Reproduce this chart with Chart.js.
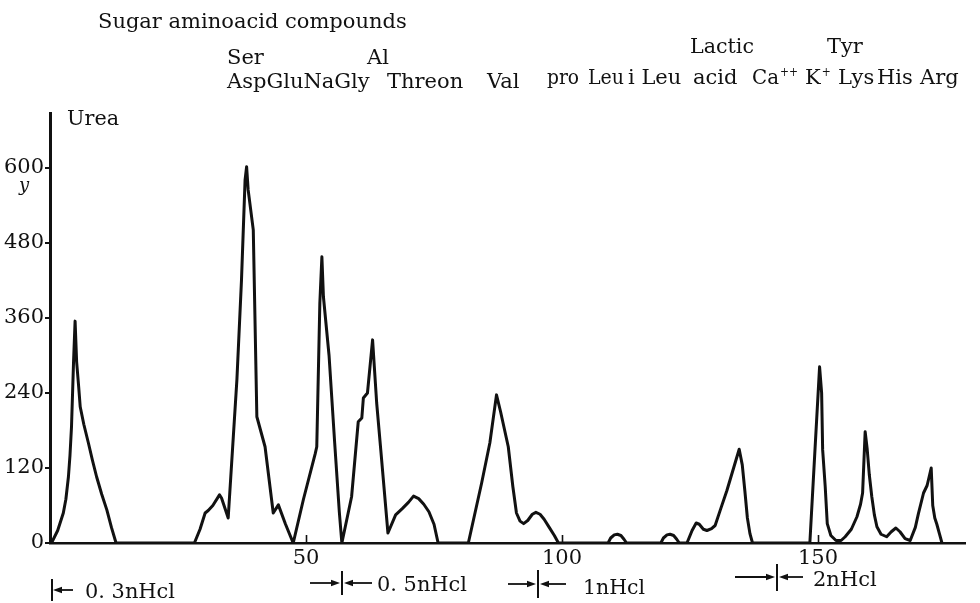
<!DOCTYPE html>
<html>
<head>
<meta charset="utf-8">
<script src="https://cdn.jsdelivr.net/npm/chart.js@4.4.1/dist/chart.umd.min.js"></script>
<style>
  html, body { margin: 0; padding: 0; background: #fff; overflow: hidden; }
  #wrap { width: 980px; height: 603px; position: relative; }
</style>
</head>
<body>
<div id="wrap"><canvas id="c"></canvas></div>
<script>
// ---------- data ----------
const chartTitle = "Sugar aminoacid compounds";
const upperLabels = ["Ser", "Al", "Lactic", "Tyr"];
const lowerLabels = ["AspGluNaGly", "Threon", "Val", "pro", "Leu", "i Leu", "acid", "Ca++", "K+", "Lys", "His", "Arg"];
const ureaLabel = "Urea";
const unitLabel = "y";
const eluents = ["0. 3nHcl", "0. 5nHcl", "1nHcl", "2nHcl"];
const xTickValues = [50, 100, 150];
const yTickValues = [0, 120, 240, 360, 480, 600];

const fractionNo = [
  0.3, 1.5, 2.6, 3.1, 3.6, 3.9, 4.2, 4.6, 4.9, 5.2, 5.6, 5.9, 6.6, 7.5, 8.3, 9.1, 10.1, 11.1, 12.0, 12.9,
  28.2, 29.3, 30.3, 30.9, 31.8, 33.1, 33.5, 34.8, 36.5, 37.4, 38.1, 38.4, 38.7, 39.7, 40.4, 42.0, 43.6, 44.6, 46.0, 47.5,
  49.5, 51.8, 52.1, 52.7, 53.1, 53.4, 54.5, 55.6, 56.5, 57.0,
  58.9, 60.2, 60.9, 61.2, 62.0, 63.0, 63.8, 64.6, 66.0, 67.5, 68.8, 70.0, 71.0, 72.0, 73.0, 74.0, 75.0, 75.8,
  81.7, 84.3, 85.9, 87.2, 88.0, 89.5, 90.4, 91.1, 91.8, 92.5, 93.3, 94.2, 94.9, 95.7, 96.5, 97.5, 98.5, 99.3,
  109.0, 109.5, 110.2, 110.8, 111.5, 112.1, 112.6,
  119.3, 119.8, 120.5, 121.1, 121.8, 122.4, 122.9,
  124.4, 125.4, 126.2, 126.8, 127.6, 128.3, 129.2, 129.9, 131.0, 132.2, 134.6, 135.2, 135.7, 136.2, 136.7, 137.2,
  148.4, 149.4, 150.3, 150.7, 150.9, 151.4, 151.8, 152.5, 153.5, 154.5, 155.3, 156.5, 157.6, 158.3, 158.7,
  159.2, 159.6, 160.0, 160.5, 161.0, 161.5, 162.3, 163.4, 164.3, 165.2, 166.0, 167.0, 168.0,
  169.0, 169.6, 170.6, 171.3, 172.1, 172.4, 172.8, 173.2, 173.7, 174.2
];
const amount = [
  0, 20, 48, 70, 106, 140, 186, 290, 355, 290, 250, 218, 190, 160, 132, 106, 78, 53, 25, 0,
  0, 22, 48, 52, 60, 77, 72, 40, 261, 421, 581, 602, 565, 501, 202, 154, 48, 61, 30, 0,
  70, 143, 154, 384, 458, 394, 300, 160, 50, 0,
  74, 194, 200, 232, 240, 325, 224, 149, 16, 45, 55, 65, 75, 71, 62, 50, 30, 0,
  0, 96, 160, 237, 210, 154, 90, 48, 35, 31, 36, 46, 49, 46, 38, 25, 12, 0,
  0, 8, 13, 14, 12, 6, 0,
  0, 8, 13, 14, 12, 6, 0,
  0, 20, 32, 30, 22, 20, 23, 28, 55, 84, 150, 125, 84, 40, 15, 0,
  0, 149, 282, 240, 149, 90, 31, 12, 4, 4, 10, 22, 42, 62, 80,
  178, 150, 110, 74, 45, 26, 14, 10, 18, 24, 18, 7, 4,
  25, 47, 80, 92, 120, 60, 40, 30, 15, 0
];

// ---------- drawing ----------
const FONT = '"DejaVu Serif", serif';
const INK = '#111';

function txt(ctx, s, x, y, size, maxW, style) {
  ctx.font = (style ? style + ' ' : '') + size + 'px ' + FONT;
  ctx.fillStyle = INK;
  ctx.textAlign = 'left';
  ctx.textBaseline = 'alphabetic';
  const w = ctx.measureText(s).width;
  if (maxW && w > maxW) ctx.fillText(s, x, y, maxW); else ctx.fillText(s, x, y);
}
function supTxt(ctx, s, x, y, size, maxW) {
  const m = s.match(/^([^+]*)(\+*)$/);
  const base = m[1], plus = m[2];
  ctx.font = size + 'px ' + FONT;
  const plusW = plus.length * 9;
  const bw = Math.min(ctx.measureText(base).width, maxW - plusW - 1);
  txt(ctx, base, x, y, size, bw);
  txt(ctx, plus, x + bw + 1, y - 8, 13, plusW);
}
function arrow(ctx, x1, x2, y) {
  const dir = x2 > x1 ? 1 : -1;
  ctx.strokeStyle = INK; ctx.fillStyle = INK; ctx.lineWidth = 1.8;
  ctx.beginPath(); ctx.moveTo(x1, y); ctx.lineTo(x2 - dir * 6, y); ctx.stroke();
  ctx.beginPath(); ctx.moveTo(x2, y); ctx.lineTo(x2 - dir * 9, y - 3.2); ctx.lineTo(x2 - dir * 9, y + 3.2); ctx.closePath(); ctx.fill();
}
function vbar(ctx, x, y1, y2) {
  ctx.strokeStyle = INK; ctx.lineWidth = 2;
  ctx.beginPath(); ctx.moveTo(x, y1); ctx.lineTo(x, y2); ctx.stroke();
}

const annotations = {
  id: 'annotations',
  afterDraw(chart) {
    const ctx = chart.ctx;
    const xs = chart.scales.x;
    ctx.save();
    ctx.strokeStyle = INK; ctx.lineWidth = 1.6;
    xTickValues.forEach(v => {
      const px = Math.round(xs.getPixelForValue(v)) + 0.5;
      ctx.beginPath(); ctx.moveTo(px, xs.top); ctx.lineTo(px, xs.top - 8); ctx.stroke();
    });
    txt(ctx, chartTitle, 98, 28, 21, 320);
    const upPos = [[227, 64, 37], [367, 64, 27], [690, 53, 64], [827, 53, 37]];
    upperLabels.forEach((s, i) => txt(ctx, s, upPos[i][0], upPos[i][1], 21, upPos[i][2]));
    const lowPos = [
      [227, 88, 151], [387, 88, 86], [487, 88, 34],
      [547, 84, 32], [588, 84, 36], [628, 84, 62], [693, 84, 58],
      [752, 84, 46], [805, 84, 30], [838, 84, 37], [877, 84, 37], [920, 84, 58]
    ];
    lowerLabels.forEach((s, i) => {
      const p = lowPos[i];
      if (s.indexOf('+') >= 0) supTxt(ctx, s, p[0], p[1], 21, p[2]);
      else txt(ctx, s, p[0], p[1], 21, p[2]);
    });
    txt(ctx, ureaLabel, 67, 125, 21, 52);
    txt(ctx, unitLabel, 19, 191, 18, null, 'italic');
    vbar(ctx, 52, 579, 601); arrow(ctx, 73, 53, 590);
    txt(ctx, eluents[0], 85, 598, 21, 90);
    arrow(ctx, 310, 340, 583); vbar(ctx, 342, 571, 595); arrow(ctx, 372, 344, 583);
    txt(ctx, eluents[1], 377, 591, 21, 90);
    arrow(ctx, 508, 536, 584); vbar(ctx, 538, 570, 598); arrow(ctx, 566, 540, 584);
    txt(ctx, eluents[2], 583, 594, 21, 62);
    arrow(ctx, 735, 775, 577); vbar(ctx, 777, 564, 591); arrow(ctx, 803, 779, 577);
    txt(ctx, eluents[3], 813, 586, 21, 66);
    ctx.restore();
  }
};

new Chart(document.getElementById('c'), {
  type: 'line',
  data: {
    datasets: [{
      data: fractionNo.map((x, i) => ({ x: x, y: amount[i] })),
      borderColor: INK,
      borderWidth: 3,
      borderJoinStyle: 'round',
      borderCapStyle: 'round',
      pointRadius: 0,
      tension: 0,
      fill: false
    }]
  },
  options: {
    responsive: true,
    maintainAspectRatio: false,
    animation: false,
    events: [],
    layout: { padding: { top: 113, right: 15, left: 0, bottom: 0 } },
    plugins: { legend: { display: false }, tooltip: { enabled: false } },
    scales: {
      x: {
        type: 'linear', min: 0, max: 178.7,
        grid: { display: true, drawOnChartArea: false, drawTicks: false },
        border: { display: true, color: INK, width: 2.5 },
        ticks: { color: INK, font: { family: FONT, size: 21 }, padding: 3, maxRotation: 0, autoSkip: false },
        afterBuildTicks: s => { s.ticks = xTickValues.map(v => ({ value: v })); },
        afterFit: s => { s.height = 60; }
      },
      y: {
        type: 'linear', min: 0, max: 688,
        grid: { display: true, drawOnChartArea: false, drawTicks: true, tickLength: 5, color: INK, lineWidth: 2 },
        border: { display: true, color: INK, width: 3 },
        ticks: { color: INK, font: { family: FONT, size: 21 }, padding: 1 },
        afterBuildTicks: s => { s.ticks = yTickValues.map(v => ({ value: v })); },
        afterFit: s => { s.width = 50; }
      }
    }
  },
  plugins: [annotations]
});
</script>
</body>
</html>
